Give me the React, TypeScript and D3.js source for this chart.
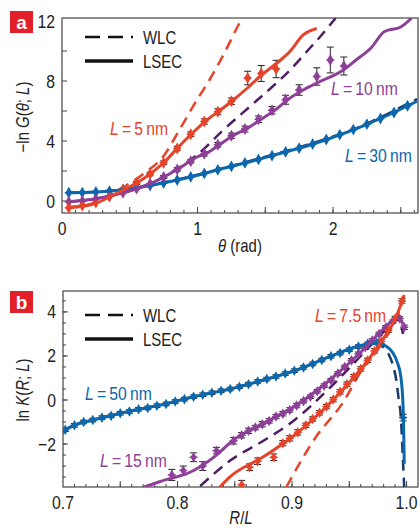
import React from 'react';
import * as d3 from 'd3';

// ---------- Panel a data (theta in rad, -ln G) ----------
const thetaLsec30 = [0.05, 0.2, 0.4, 0.6, 0.8, 1.0, 1.2, 1.4, 1.6, 1.8, 2.0, 2.2, 2.4, 2.62];
const lsec30 = [0.55, 0.58, 0.7, 0.95, 1.3, 1.72, 2.2, 2.65, 3.15, 3.65, 4.25, 4.93, 5.7, 6.65];
const wlc30 = [0.55, 0.58, 0.72, 0.98, 1.33, 1.75, 2.22, 2.7, 3.2, 3.72, 4.3, 4.95, 5.8, 6.8];

const thetaLsec10 = [0.05, 0.25, 0.45, 0.65, 0.85, 1.0, 1.07, 1.17, 1.26, 1.37, 1.47, 1.57, 1.68, 1.79, 1.9, 2.07, 2.17, 2.28, 2.38, 2.5, 2.58];
const lsec10 = [-0.05, 0.15, 0.55, 1.15, 2.1, 2.95, 3.2, 3.8, 4.35, 4.85, 5.45, 6.05, 6.85, 7.45, 7.95, 8.7, 9.4, 10.2, 11.3, 11.6, 12.2];
const thetaWlc10 = [0.05, 0.25, 0.45, 0.65, 0.85, 1.0, 1.19, 1.4, 1.55, 1.68, 1.8, 1.9, 2.02];
const wlc10 = [-0.05, 0.15, 0.55, 1.15, 2.15, 3.1, 4.73, 6.4, 7.6, 8.7, 9.9, 10.9, 12.2];

const thetaLsec5 = [0.05, 0.25, 0.4, 0.55, 0.65, 0.75, 0.87, 0.97, 1.07, 1.17, 1.26, 1.37, 1.46, 1.6, 1.68, 1.78, 1.88];
const lsec5 = [-0.45, -0.15, 0.5, 1.2, 1.8, 2.55, 3.7, 4.6, 5.4, 6.07, 6.7, 7.55, 8.3, 9.3, 9.95, 11.07, 11.5];
const thetaWlc5 = [0.05, 0.25, 0.45, 0.6, 0.75, 0.87, 1.0, 1.09, 1.2, 1.3, 1.33];
const wlc5 = [-0.4, -0.1, 0.9, 1.8, 3.0, 4.8, 6.8, 8.1, 9.9, 11.7, 12.2];

const thetaPts30 = [0.05, 0.15, 0.25, 0.35, 0.45, 0.55, 0.65, 0.75, 0.85, 0.95, 1.05, 1.15, 1.25, 1.35, 1.45, 1.55, 1.65, 1.75, 1.85, 1.95, 2.05, 2.15, 2.25, 2.35, 2.45, 2.55];
const pts30 = [0.55, 0.56, 0.6, 0.66, 0.75, 0.88, 1.03, 1.2, 1.4, 1.61, 1.84, 2.08, 2.31, 2.54, 2.77, 3.02, 3.27, 3.52, 3.8, 4.1, 4.42, 4.76, 5.12, 5.5, 5.9, 6.35];

const thetaPts10 = [0.05, 0.15, 0.25, 0.35, 0.45, 0.55, 0.65, 0.75, 0.85, 0.95, 1.05, 1.15, 1.25, 1.35, 1.45, 1.55, 1.65, 1.75, 1.88, 1.98, 2.08];
const pts10 = [-0.05, 0.0, 0.15, 0.33, 0.55, 0.82, 1.15, 1.6, 2.1, 2.65, 3.15, 3.75, 4.35, 4.8, 5.45, 6.05, 6.75, 7.4, 8.3, 9.4, 9.0];
const err10 = [0, 0, 0, 0, 0, 0, 0, 0.1, 0.12, 0.12, 0.15, 0.15, 0.18, 0.2, 0.22, 0.25, 0.3, 0.35, 0.58, 0.86, 0.6];

const thetaPts5 = [0.05, 0.15, 0.25, 0.35, 0.45, 0.55, 0.65, 0.75, 0.85, 0.95, 1.05, 1.15, 1.25, 1.37, 1.47, 1.58];
const pts5 = [-0.45, -0.3, -0.1, 0.3, 0.75, 1.2, 1.8, 2.55, 3.5, 4.45, 5.3, 5.95, 6.65, 8.2, 8.5, 8.8];
const err5 = [0, 0, 0, 0, 0.1, 0.1, 0.12, 0.12, 0.15, 0.15, 0.18, 0.2, 0.22, 0.45, 0.53, 0.58];

// ---------- Panel b data (R/L, ln K) ----------
const rLsec50 = [0.7, 0.712, 0.726, 0.756, 0.785, 0.814, 0.85, 0.875, 0.904, 0.933, 0.962, 0.974, 0.982, 0.988, 0.992, 0.995, 0.997, 0.998];
const lsec50 = [-1.4, -1.1, -0.91, -0.53, -0.23, 0.15, 0.55, 0.91, 1.36, 1.97, 2.5, 2.58, 2.45, 2.15, 1.7, 1.06, -0.3, -2.9];
const rWlc50 = [0.7, 0.712, 0.726, 0.756, 0.785, 0.814, 0.85, 0.875, 0.904, 0.933, 0.962, 0.972, 0.98, 0.984, 0.988, 0.991, 0.993, 0.995, 0.997, 0.998];
const wlc50 = [-1.4, -1.1, -0.91, -0.53, -0.23, 0.15, 0.55, 0.91, 1.36, 1.97, 2.5, 2.55, 2.4, 2.12, 1.6, 0.91, 0.1, -0.76, -2.9, -4.0];

const rLsec15 = [0.771, 0.785, 0.814, 0.834, 0.848, 0.875, 0.904, 0.933, 0.962, 0.979, 0.992, 0.997];
const lsec15 = [-3.95, -3.7, -3.2, -2.5, -1.85, -1.06, -0.23, 0.91, 2.27, 3.18, 3.71, 3.45];
const rWlc15 = [0.82, 0.846, 0.875, 0.9, 0.93, 0.96, 0.98, 0.992, 0.997];
const wlc15 = [-3.9, -2.75, -1.85, -1.0, 0.4, 2.0, 3.1, 3.7, 3.0];

const rLsec75 = [0.837, 0.846, 0.875, 0.904, 0.933, 0.962, 0.979, 0.991, 0.998];
const lsec75 = [-3.95, -3.48, -2.58, -1.52, -0.15, 1.52, 2.73, 3.79, 4.77];
const rWlc75 = [0.895, 0.921, 0.944, 0.962, 0.979, 0.991, 0.998];
const wlc75 = [-3.95, -1.67, -0.15, 1.45, 2.6, 3.7, 4.7];

const rPts50 = [0.702, 0.71, 0.718, 0.726, 0.734, 0.742, 0.75, 0.758, 0.766, 0.774, 0.782, 0.79, 0.798, 0.806, 0.814, 0.822, 0.83, 0.838, 0.846, 0.854, 0.862, 0.87, 0.878, 0.886, 0.894, 0.902, 0.91, 0.918, 0.926, 0.934, 0.942, 0.95, 0.958, 0.966, 0.974, 0.997];
const pts50 = [-1.35, -1.15, -1.0, -0.91, -0.8, -0.72, -0.6, -0.52, -0.42, -0.36, -0.26, -0.18, -0.07, 0.04, 0.15, 0.24, 0.33, 0.42, 0.5, 0.6, 0.72, 0.84, 0.95, 1.07, 1.2, 1.33, 1.48, 1.64, 1.82, 1.99, 2.13, 2.28, 2.43, 2.55, 2.6, -0.8];
const err50 = [0.08, 0.08, 0.08, 0.08, 0.08, 0.08, 0.08, 0.08, 0.08, 0.08, 0.08, 0.08, 0.08, 0.08, 0.08, 0.08, 0.08, 0.08, 0.08, 0.08, 0.08, 0.08, 0.08, 0.08, 0.08, 0.08, 0.08, 0.08, 0.08, 0.08, 0.08, 0.08, 0.08, 0.08, 0.08, 0.15];

const rPts15 = [0.795, 0.805, 0.814, 0.822, 0.834, 0.849, 0.856, 0.862, 0.868, 0.874, 0.88, 0.886, 0.892, 0.898, 0.904, 0.91, 0.916, 0.922, 0.928, 0.934, 0.94, 0.946, 0.952, 0.958, 0.964, 0.97, 0.976, 0.982, 0.988, 0.994, 0.998];
const pts15 = [-3.4, -3.2, -2.6, -3.0, -2.3, -1.85, -1.6, -1.4, -1.25, -1.1, -0.95, -0.75, -0.62, -0.45, -0.25, -0.05, 0.15, 0.4, 0.65, 0.9, 1.2, 1.5, 1.8, 2.1, 2.4, 2.7, 3.0, 3.3, 3.55, 3.7, 3.3];
const err15 = [0.25, 0.2, 0.2, 0.2, 0.15, 0.15, 0.12, 0.12, 0.1, 0.12, 0.1, 0.1, 0.1, 0.1, 0.1, 0.08, 0.08, 0.08, 0.08, 0.08, 0.08, 0.08, 0.08, 0.08, 0.08, 0.08, 0.08, 0.08, 0.08, 0.08, 0.1];

const rPts75 = [0.856, 0.863, 0.87, 0.884, 0.892, 0.898, 0.905, 0.912, 0.918, 0.924, 0.93, 0.936, 0.942, 0.948, 0.954, 0.96, 0.966, 0.972, 0.978, 0.984, 0.99, 0.996];
const pts75 = [-3.85, -3.05, -2.78, -2.6, -1.96, -1.74, -1.47, -1.15, -0.86, -0.58, -0.3, 0.02, 0.37, 0.72, 1.06, 1.41, 1.8, 2.23, 2.66, 3.17, 3.7, 4.5];
const err75 = [0.2, 0.15, 0.15, 0.15, 0.12, 0.12, 0.12, 0.1, 0.1, 0.1, 0.1, 0.1, 0.1, 0.1, 0.1, 0.1, 0.1, 0.1, 0.1, 0.1, 0.1, 0.1];

// tick labels
const xTicksA = [0, 1, 2];
const yTicksA = [0, 4, 8, 12];
const xTicksB = [0.7, 0.8, 0.9, 1.0];
const yTicksB = [-2, 0, 2, 4];

const RED = '#e5432a';
const PURPLE = '#8e3f98';
const BLUE = '#0c67ad';
const DPURPLE = '#4e1d66';
const NAVY = '#173a66';
const FONT = "'Liberation Sans', Arial, sans-serif";
const SX = 0.83;
const TS = '\u2009';

type Sc = d3.ScaleLinear<number, number>;

function NText({ x, y, size, anchor = 'start', fill = '#222', rotate = 0, children }: { x: number; y: number; size: number; anchor?: string; fill?: string; rotate?: number; children: React.ReactNode }) {
  return (
    <text transform={`translate(${x},${y}) rotate(${rotate}) scale(${SX},1)`} fontFamily={FONT} fontSize={size} fill={fill} textAnchor={anchor}>
      {children}
    </text>
  );
}

function Curve({ xs, ys, x, y, color, dashed, width = 3, clip }: { xs: number[]; ys: number[]; x: Sc; y: Sc; color: string; dashed?: boolean; width?: number; clip: string }) {
  const line = d3.line<number>().x((_, i) => x(xs[i])).y((v) => y(v)).curve(d3.curveMonotoneX);
  return <path d={line(ys) || ''} fill="none" stroke={color} strokeWidth={width} strokeDasharray={dashed ? '11,7' : undefined} clipPath={`url(#${clip})`} strokeLinecap="butt" />;
}

function Markers({ xs, ys, errs, x, y, color, size = 40, clip }: { xs: number[]; ys: number[]; errs?: number[]; x: Sc; y: Sc; color: string; size?: number; clip: string }) {
  const sym = d3.symbol().type(d3.symbolDiamond).size(size)();
  return (
    <g clipPath={`url(#${clip})`}>
      {xs.map((xv, i) => {
        const cx = x(xv), cy = y(ys[i]);
        const e = errs ? errs[i] : 0;
        return (
          <g key={i}>
            {e > 0 && (
              <g stroke="#222" strokeWidth={1}>
                <line x1={cx} x2={cx} y1={y(ys[i] - e)} y2={y(ys[i] + e)} />
                <line x1={cx - 3.5} x2={cx + 3.5} y1={y(ys[i] - e)} y2={y(ys[i] - e)} />
                <line x1={cx - 3.5} x2={cx + 3.5} y1={y(ys[i] + e)} y2={y(ys[i] + e)} />
              </g>
            )}
            <path d={sym || ''} transform={`translate(${cx},${cy})`} fill={color} />
            <path d={`M${cx - 4},${cy}H${cx + 4}`} stroke={color} strokeWidth={1.5} />
          </g>
        );
      })}
    </g>
  );
}

function Frame({ x, y, minorX, majorX, minorY, majorY, xLabels, yLabels, fmtX }: { x: Sc; y: Sc; minorX: number[]; majorX: number[]; minorY: number[]; majorY: number[]; xLabels: number[]; yLabels: number[]; fmtX: (v: number) => string }) {
  const [x0, x1] = x.range();
  const [y0, y1] = y.range();
  return (
    <g>
      <rect x={x0} y={y1} width={x1 - x0} height={y0 - y1} fill="none" stroke="#444" strokeWidth={1.2} />
      <g stroke="#444" strokeWidth={1}>
        {minorX.map((v, i) => <line key={'mx' + i} x1={x(v)} x2={x(v)} y1={y0} y2={y0 - 3} />)}
        {majorX.map((v, i) => <line key={'Mx' + i} x1={x(v)} x2={x(v)} y1={y0} y2={y0 - 6} />)}
        {minorY.map((v, i) => <line key={'my' + i} x1={x0} x2={x0 + 3} y1={y(v)} y2={y(v)} />)}
        {majorY.map((v, i) => <line key={'My' + i} x1={x0} x2={x0 + 5} y1={y(v)} y2={y(v)} />)}
      </g>
      {xLabels.map((v, i) => <NText key={'lx' + i} x={x(v)} y={y0 + 22} size={19} anchor="middle">{fmtX(v)}</NText>)}
      {yLabels.map((v, i) => <NText key={'ly' + i} x={x0 - 7} y={y(v) + 6.5} size={19} anchor="end">{v < 0 ? '\u2212' + Math.abs(v) : String(v)}</NText>)}
    </g>
  );
}

function range(a: number, b: number, s: number) {
  return d3.range(Math.round((b - a) / s) + 1).map((i) => +(a + i * s).toFixed(4));
}

function Legend({ x, y }: { x: number; y: number }) {
  return (
    <g>
      <line x1={x} x2={x + 48} y1={y} y2={y} stroke="#111" strokeWidth={2.5} strokeDasharray="15,8" />
      <NText x={x + 58} y={y + 6.5} size={18}>WLC</NText>
      <line x1={x} x2={x + 48} y1={y + 24} y2={y + 24} stroke="#111" strokeWidth={3.5} />
      <NText x={x + 58} y={y + 30.5} size={18}>LSEC</NText>
    </g>
  );
}

function Lbl({ x, y, color, n }: { x: number; y: number; color: string; n: string }) {
  return (
    <NText x={x} y={y} size={19} fill={color}>
      <tspan fontStyle="italic">L</tspan>
      <tspan>{TS + '=' + TS + n + TS + 'nm'}</tspan>
    </NText>
  );
}

export default function App() {
  const xA = d3.scaleLinear().domain([0, 2.627]).range([62, 418]);
  const yA = d3.scaleLinear().domain([-0.8, 12.2]).range([213, 18]);
  const xB = d3.scaleLinear().domain([0.7, 1.01]).range([63, 418]);
  const yB = d3.scaleLinear().domain([-3.95, 4.95]).range([487, 291]);

  return (
    <svg width={419} height={530} style={{ position: 'absolute', left: 0, top: 0, background: '#fff' }}>
      <defs>
        <clipPath id="ca"><rect x={62} y={18} width={356} height={195} /></clipPath>
        <clipPath id="cb"><rect x={63} y={291} width={355} height={196} /></clipPath>
      </defs>

      {/* Panel a */}
      <rect x={10} y={11} width={23} height={22} fill="#e3202a" />
      <text x={21.5} y={29} textAnchor="middle" fill="#fff" fontFamily={FONT} fontWeight="bold" fontSize={19}>a</text>
      <Frame x={xA} y={yA} minorX={range(0.1, 2.6, 0.1)} majorX={[0.5, 1, 1.5, 2, 2.5]} minorY={[]} majorY={[0, 2, 4, 6, 8, 10]} xLabels={xTicksA} yLabels={yTicksA} fmtX={(v) => String(v)} />
      <Curve xs={thetaLsec30} ys={wlc30} x={xA} y={yA} color={NAVY} dashed width={2.5} clip="ca" />
      <Curve xs={thetaWlc10} ys={wlc10} x={xA} y={yA} color={DPURPLE} dashed width={2.5} clip="ca" />
      <Curve xs={thetaWlc5} ys={wlc5} x={xA} y={yA} color={RED} dashed width={2.5} clip="ca" />
      <Markers xs={thetaPts30} ys={pts30} x={xA} y={yA} color={BLUE} clip="ca" />
      <Markers xs={thetaPts10} ys={pts10} errs={err10} x={xA} y={yA} color={PURPLE} clip="ca" />
      <Markers xs={thetaPts5} ys={pts5} errs={err5} x={xA} y={yA} color={RED} clip="ca" />
      <Curve xs={thetaLsec30} ys={lsec30} x={xA} y={yA} color={BLUE} clip="ca" />
      <Curve xs={thetaLsec10} ys={lsec10} x={xA} y={yA} color={PURPLE} clip="ca" />
      <Curve xs={thetaLsec5} ys={lsec5} x={xA} y={yA} color={RED} clip="ca" />
      <Legend x={85} y={37} />
      <Lbl x={110} y={135} color={RED} n="5" />
      <Lbl x={331} y={95} color={PURPLE} n="10" />
      <Lbl x={345} y={162} color={BLUE} n="30" />
      <NText x={29} y={117} size={18} anchor="middle" rotate={-90}>
        {'\u2212ln '}<tspan fontStyle="italic">G</tspan>(<tspan fontStyle="italic">θ</tspan>; <tspan fontStyle="italic">L</tspan>)
      </NText>
      <NText x={240} y={252} size={18} anchor="middle">
        <tspan fontStyle="italic">θ</tspan> (rad)
      </NText>

      {/* Panel b */}
      <rect x={10} y={291} width={23} height={22} fill="#e3202a" />
      <text x={21.5} y={309} textAnchor="middle" fill="#fff" fontFamily={FONT} fontWeight="bold" fontSize={19}>b</text>
      <Frame x={xB} y={yB} minorX={range(0.71, 1.0, 0.01)} majorX={[0.75, 0.8, 0.85, 0.9, 0.95, 1.0]} minorY={range(-3.5, 4.5, 0.5)} majorY={[-2, 0, 2, 4]} xLabels={xTicksB} yLabels={yTicksB} fmtX={(v) => v.toFixed(1)} />
      <Curve xs={rWlc50} ys={wlc50} x={xB} y={yB} color={NAVY} dashed width={2.5} clip="cb" />
      <Curve xs={rWlc15} ys={wlc15} x={xB} y={yB} color={DPURPLE} dashed width={2.5} clip="cb" />
      <Curve xs={rWlc75} ys={wlc75} x={xB} y={yB} color={RED} dashed width={2.5} clip="cb" />
      <Markers xs={rPts50} ys={pts50} errs={err50} x={xB} y={yB} color={BLUE} size={32} clip="cb" />
      <Markers xs={rPts15} ys={pts15} errs={err15} x={xB} y={yB} color={PURPLE} size={32} clip="cb" />
      <Markers xs={rPts75} ys={pts75} errs={err75} x={xB} y={yB} color={RED} size={32} clip="cb" />
      <Curve xs={rLsec50} ys={lsec50} x={xB} y={yB} color={BLUE} clip="cb" />
      <Curve xs={rLsec15} ys={lsec15} x={xB} y={yB} color={PURPLE} clip="cb" />
      <Curve xs={rLsec75} ys={lsec75} x={xB} y={yB} color={RED} clip="cb" />
      <Legend x={85} y={315} />
      <Lbl x={85} y={400} color={BLUE} n="50" />
      <Lbl x={100} y={467} color={PURPLE} n="15" />
      <Lbl x={315} y={322} color={RED} n="7.5" />
      <NText x={29} y={390} size={18} anchor="middle" rotate={-90}>
        {'ln '}<tspan fontStyle="italic">K</tspan>(<tspan fontStyle="italic">R</tspan>; <tspan fontStyle="italic">L</tspan>)
      </NText>
      <NText x={241} y={524} size={18} anchor="middle">
        <tspan fontStyle="italic">R</tspan>/<tspan fontStyle="italic">L</tspan>
      </NText>
    </svg>
  );
}
